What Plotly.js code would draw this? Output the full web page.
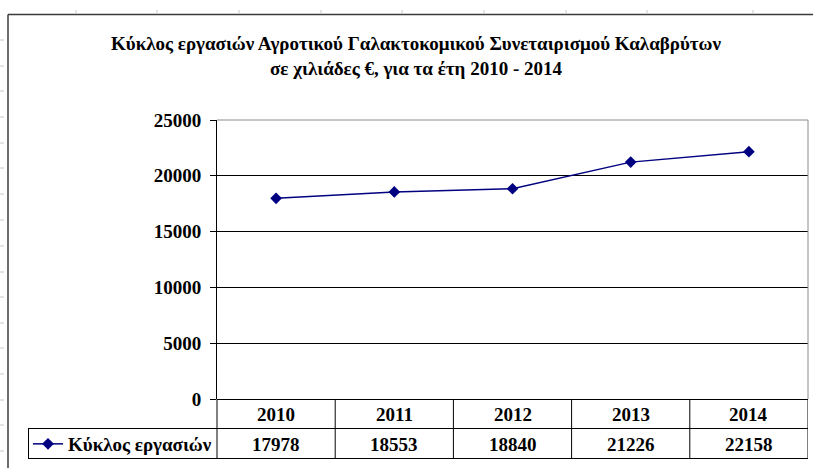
<!DOCTYPE html>
<html>
<head>
<meta charset="utf-8">
<script src="https://cdn.plot.ly/plotly-3.0.1.min.js"></script>
<style>html,body{margin:0;padding:0;background:#fff;}#chart{width:813px;height:468px;}</style>
</head>
<body>
<div id="chart"></div>
<script>
const years = ['2010', '2011', '2012', '2013', '2014'];
const turnover = [17978, 18553, 18840, 21226, 22158];
const seriesName = 'Κύκλος εργασιών';
const titleLines = ['Κύκλος εργασιών Αγροτικού Γαλακτοκομικού Συνεταιρισμού Καλαβρύτων', 'σε χιλιάδες €, για τα έτη 2010 - 2014'];
const yTicks = [0, 5000, 10000, 15000, 20000, 25000];

const W = 813, H = 468;
const M = {l: 217, r: 5, t: 120, b: 69};
const PW = W - M.l - M.r, PH = H - M.t - M.b;
const px = X => (X - M.l) / PW;          // pixel x -> paper x
const py = Y => (H - M.b - Y) / PH;      // pixel y -> paper y
const serif = 'Times New Roman';
const b = s => '<b>' + s + '</b>';

const shapes = [];
const line = (xref, x0, x1, yref, y0, y1, color, width) =>
  shapes.push({type: 'line', xref: xref, yref: yref, x0: x0, x1: x1, y0: y0, y1: y1,
               line: {color: color, width: width || 1}, layer: 'above'});

// plot area border (gray) top & right
line('paper', 0, 1, 'paper', 1, 1, '#8c8c8c', 1);
line('paper', 1, 1, 'paper', 0, 1, '#8c8c8c', 1);
// data table
line('paper', px(28), 1, 'paper', py(428.5), py(428.5), '#000', 1);
line('paper', px(28), 1, 'paper', py(458.5), py(458.5), '#000', 1);
line('paper', px(28.5), px(28.5), 'paper', py(428.5), py(458.5), '#000', 1);
line('paper', 0, 0, 'paper', py(458.5), 0, '#000', 1);
for (let i = 0; i < years.length; i++) {
  line('x', i + 0.5, i + 0.5, 'paper', py(458.5), 0, '#000', 1);
}
// outer chart frame
line('paper', px(8), px(W), 'paper', py(14.5), py(14.5), '#3a3a3a', 1.5);
line('paper', px(8), px(8), 'paper', py(14.5), py(H), '#3a3a3a', 1.5);
// faint sheet gridline stubs outside the chart
[76, 157, 239, 321, 402, 484, 566, 647, 753].forEach(X =>
  shapes.push({type: 'line', xref: 'paper', yref: 'paper', x0: px(X), x1: px(X), y0: py(10), y1: py(14),
               line: {color: '#c8c8c8', width: 1}}));
[40, 66, 91, 117, 143, 168, 194, 220, 246, 272, 297, 323, 348, 374, 400, 425, 451].forEach(Y =>
  shapes.push({type: 'line', xref: 'paper', yref: 'paper', x0: px(0), x1: px(4), y0: py(Y), y1: py(Y),
               line: {color: '#c8c8c8', width: 1}}));

const cellFont = {family: serif, size: 19, color: '#000'};
const annotations = [];
years.forEach((yr, i) => {
  annotations.push({x: i, xref: 'x', y: py(414), yref: 'paper', text: b(yr), showarrow: false,
    xanchor: 'center', yanchor: 'middle', font: cellFont});
  annotations.push({x: i, xref: 'x', y: py(444), yref: 'paper', text: b(String(turnover[i])), showarrow: false,
    xanchor: 'center', yanchor: 'middle', font: cellFont});
});

const trace = {
  x: years, y: turnover, name: b(seriesName), type: 'scatter', mode: 'lines+markers',
  line: {color: '#000080', width: 1.5},
  marker: {symbol: 'diamond', size: 9, color: '#000080'},
  cliponaxis: false
};

const layout = {
  width: W, height: H,
  margin: M,
  paper_bgcolor: '#fff', plot_bgcolor: '#fff',
  font: {family: serif},
  title: {text: titleLines.map(b).join('<br>'), xref: 'container', x: 416 / W, xanchor: 'center',
          yref: 'container', y: 1 - 50 / H, yanchor: 'top',
          font: {family: serif, size: 19, color: '#000'}},
  xaxis: {type: 'category', range: [-0.5, years.length - 0.5], showgrid: false, zeroline: false,
          showticklabels: false, ticks: '', showline: false, fixedrange: true},
  yaxis: {range: [0, 25000], tickmode: 'array', tickvals: yTicks, ticktext: yTicks.map(v => b(String(v))),
          showgrid: true, gridcolor: '#000', gridwidth: 1,
          zeroline: true, zerolinecolor: '#000', zerolinewidth: 1,
          showline: true, linecolor: '#000', linewidth: 1,
          ticks: 'outside', ticklen: 6, tickcolor: '#000', tickwidth: 1, ticklabelstandoff: 5,
          tickfont: cellFont, fixedrange: true},
  showlegend: true,
  legend: {x: px(28), xanchor: 'left', y: py(444), yanchor: 'middle', bgcolor: 'rgba(0,0,0,0)',
           borderwidth: 0, itemwidth: 30, tracegroupgap: 0,
           font: cellFont},
  shapes: shapes,
  annotations: annotations
};

Plotly.newPlot('chart', [trace], layout, {displayModeBar: false, staticPlot: true});
</script>
</body>
</html>
